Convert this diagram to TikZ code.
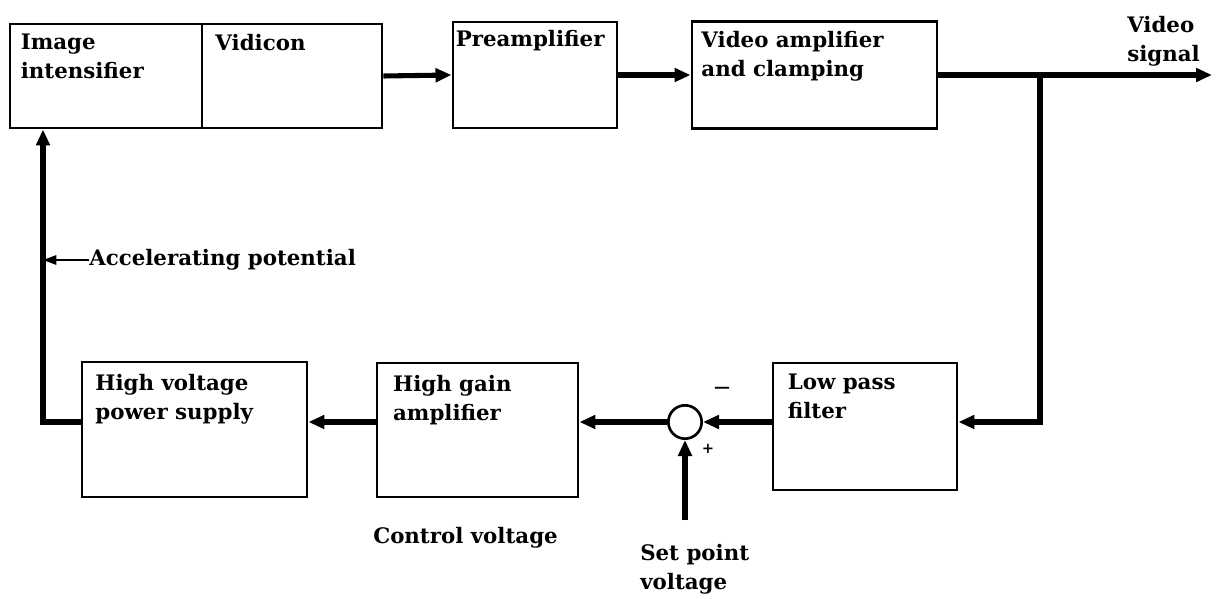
\documentclass[tikz,border=0pt]{standalone}
\usepackage{fontspec}
\setmainfont{DejaVu Serif}
\usetikzlibrary{arrows.meta, positioning}

\begin{document}
\begin{tikzpicture}[x=0.75pt, y=-0.75pt,
  block/.style={draw, line width=2.2pt, inner sep=0pt},
  blocktext/.style={font=\fontsize{16}{21.75}\selectfont\bfseries, align=left,
                    inner sep=0pt, anchor=north west},
  note/.style={font=\fontsize{16}{21.75}\selectfont\bfseries, align=left, inner sep=0pt},
  flow/.style={line width=3.8pt, -{Triangle[length=12pt, width=10pt]}},
  smallflow/.style={line width=1.5pt, -{Triangle[length=10pt, width=7pt]}},
  junction/.style={circle, draw, line width=2pt, inner sep=0pt, minimum size=25pt}
]
  \useasboundingbox (0,0) rectangle (1222,599);

  % Forward path
  \node[block, minimum width=144pt, minimum height=78pt] (ii) at (106,76) {};
  \node[block, minimum width=135pt, minimum height=78pt] (vid) at (292,76) {};
  \node[block, minimum width=123pt, minimum height=79.5pt] (pre) at (535,75) {};
  \node[block, minimum width=183.75pt, minimum height=80pt] (vamp) at (814.5,75) {};

  \node[blocktext, below right=8.5pt and 9pt of ii.north west] (iitxt) {Image\\intensifier};
  \node[blocktext, below right=8.5pt and 11pt of vid.north west] (vidtxt) {Vidicon};
  \node[blocktext, below right=7pt and 3pt of pre.north west] (pretxt) {Preamplifier};
  \node[blocktext, below right=8pt and 8pt of vamp.north west] (vamptxt) {Video amplifier\\and clamping};

  % Feedback path
  \node[block, minimum width=168.75pt, minimum height=101.25pt] (hvps) at (194.5,429.5) {};
  \node[block, minimum width=150.75pt, minimum height=100.5pt] (hga) at (477.5,430) {};
  \node[block, minimum width=138pt, minimum height=95.25pt] (lpf) at (865,426.5) {};
  \node[junction] (sum) at (685,422) {};

  \node[blocktext, below right=10pt and 11pt of hvps.north west] (hvpstxt) {High voltage\\power supply};
  \node[blocktext, below right=10pt and 13pt of hga.north west] (hgatxt) {High gain\\amplifier};
  \node[blocktext, below right=9pt and 12pt of lpf.north west] (lpftxt) {Low pass\\filter};

  % Free labels
  \node[note, anchor=north west] (vsig) at (1127,16) {Video\\signal};
  \node[note, anchor=west] (acc) at (89,260) {Accelerating potential};
  \node[note, anchor=north west] (cv) at (373,527) {Control voltage};
  \node[note, anchor=north west] (spv) at (640,544) {Set point\\voltage};
  \node[font=\fontsize{12}{14}\selectfont\bfseries, inner sep=0pt] (minus) at (722,390) {—};
  \node[font=\fontsize{11}{13}\selectfont\bfseries, inner sep=0pt] (plus) at (708,449) {+};

  \coordinate (jn) at (1040,75);
  \coordinate (out) at (1212,75);
  \coordinate (corner) at (43,422);
  \coordinate (sp) at (685,520);

  % Signal lines
  \draw[flow] (vid.east) -- (pre.west);
  \draw[flow] (pre.east) -- (vamp.west);
  \draw[flow] (vamp.east) -- (out);
  \draw[flow] (jn) |- (sum -| lpf.east);
  \draw[flow] (lpf.west |- sum) -- (sum.east);
  \draw[flow] (sum.west) -- (sum -| hga.east);
  \draw[flow] (hga.west |- sum) -- (sum -| hvps.east);
  \draw[flow] (hvps.west |- sum) -- (corner) -- (corner |- ii.south);
  \draw[flow] (sp) -- (sum.south);
  \draw[smallflow] (acc.west) -- (acc.west -| corner);
\end{tikzpicture}
\end{document}
